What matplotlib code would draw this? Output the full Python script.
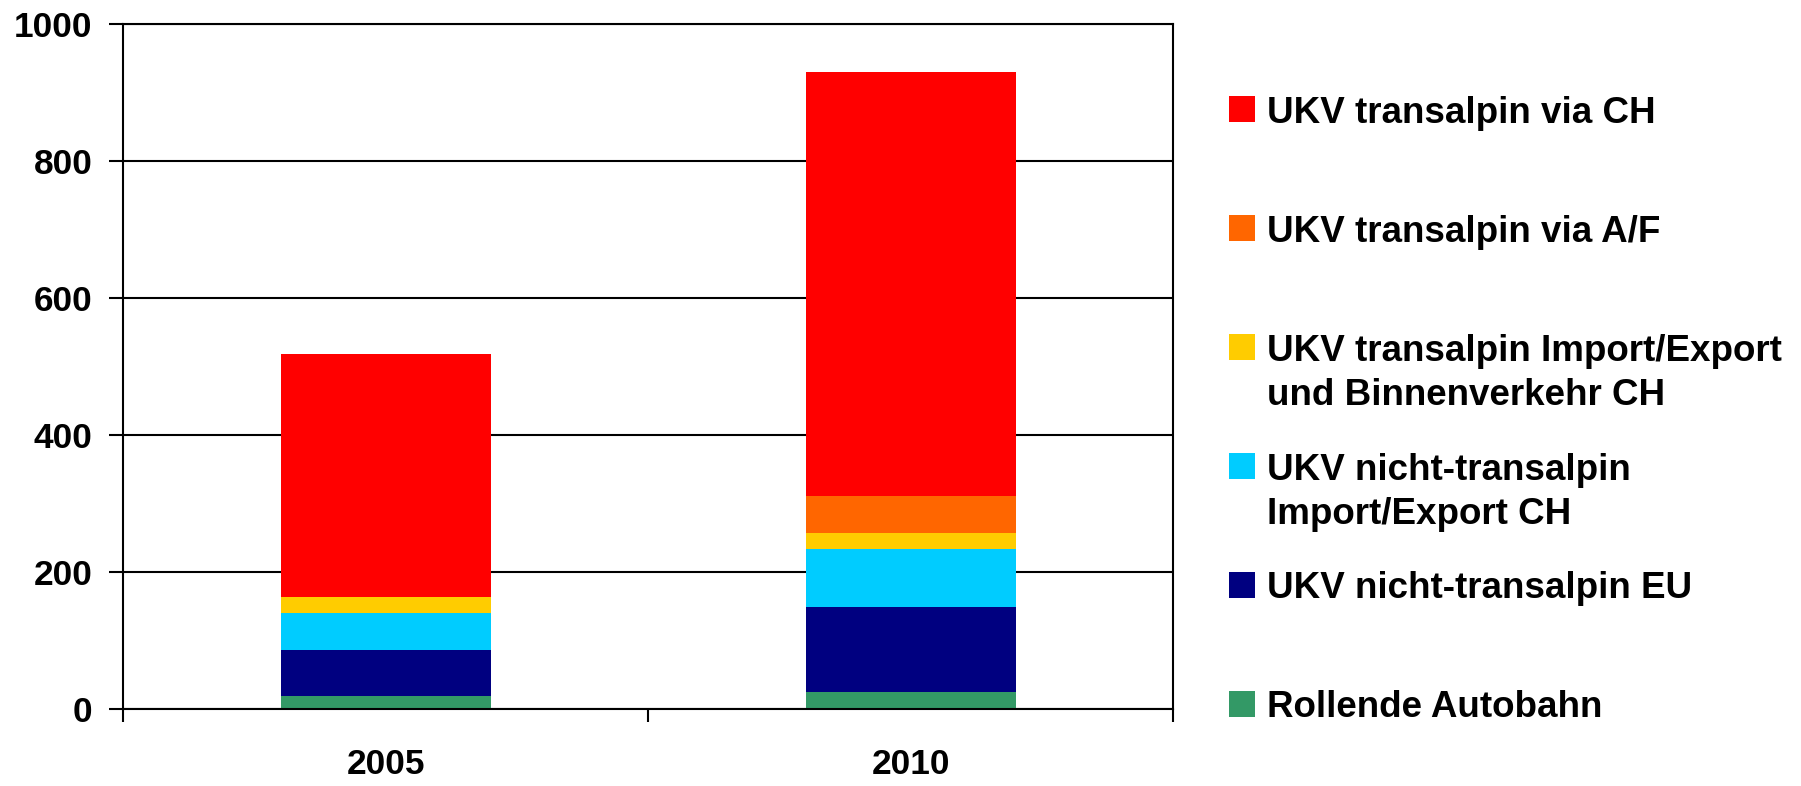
import matplotlib
matplotlib.use("Agg")
import matplotlib.pyplot as plt
from matplotlib.patches import Rectangle
import numpy as np

plt.rcParams['font.family'] = ['Liberation Sans', 'DejaVu Sans']
plt.rcParams['font.weight'] = 'bold'

years = ['2005', '2010']
series_labels = [
    'Rollende Autobahn',
    'UKV nicht-transalpin EU',
    'UKV nicht-transalpin\nImport/Export CH',
    'UKV transalpin Import/Export\nund Binnenverkehr CH',
    'UKV transalpin via A/F',
    'UKV transalpin via CH',
]
series_colors = ['#339966', '#000080', '#00CCFF', '#FFCC00', '#FF6600', '#FF0000']
rollende = [20, 25]
nicht_eu = [67, 125]
nicht_ch = [54, 84]
trans_ie = [23, 23]
trans_af = [0, 54]
trans_ch = [354, 619]
series_values = [rollende, nicht_eu, nicht_ch, trans_ie, trans_af, trans_ch]
y_ticks = [0, 200, 400, 600, 800, 1000]

W, H = 1801, 786
fig = plt.figure(figsize=(W / 100, H / 100), dpi=100)
ax = fig.add_axes([123 / W, 1 - 709.3 / H, 1050 / W, 685.3 / H])

x = np.arange(len(years))
bottom = np.zeros(len(years))
for vals, col in zip(series_values, series_colors):
    ax.bar(x, vals, width=0.4, bottom=bottom, color=col, linewidth=0, zorder=2)
    bottom += np.array(vals)

ax.set_xlim(-0.5, len(years) - 0.5)
ax.set_ylim(0, 1000)
ax.set_yticks(y_ticks)
ax.set_yticklabels([str(v) for v in y_ticks])
ax.set_xticks(x)
ax.set_xticklabels(years)
ax.set_xticks(np.arange(-0.5, len(years)), minor=True)

ax.set_axisbelow(True)
ax.yaxis.grid(True, color='black', linewidth=1.5, zorder=0)

for s in ['left', 'right', 'bottom', 'top']:
    ax.spines[s].set_color('black')
    ax.spines[s].set_linewidth(1.5)
ax.spines['left'].set_zorder(3)

ax.tick_params(axis='y', direction='out', length=10, width=1.5, pad=12,
               labelsize=25.4, colors='black')
ax.tick_params(axis='x', which='major', length=0, pad=28, labelsize=25.4)
ax.tick_params(axis='x', which='minor', direction='out', length=9.5, width=1.5)
for lbl in ax.get_xticklabels() + ax.get_yticklabels():
    lbl.set_fontweight('bold')

# Legend drawn in figure pixels (top entry first)
handle_x0, handle_size = 1229, 26
text_x = 1267
first_center = 109.3
step = 118.9
line_gap = 44
for i, (lab, col) in enumerate(zip(series_labels[::-1], series_colors[::-1])):
    cy = first_center + i * step
    fig.add_artist(Rectangle((handle_x0 / W, 1 - (cy + handle_size / 2) / H),
                             handle_size / W, handle_size / H,
                             transform=fig.transFigure, facecolor=col,
                             edgecolor='none'))
    for j, line in enumerate(lab.split('\n')):
        base = cy + 13.5 + j * line_gap
        fig.text(text_x / W, 1 - base / H, line, fontsize=26.5, fontweight='bold',
                 ha='left', va='baseline', color='black')

fig.savefig('out.png', dpi=100)
